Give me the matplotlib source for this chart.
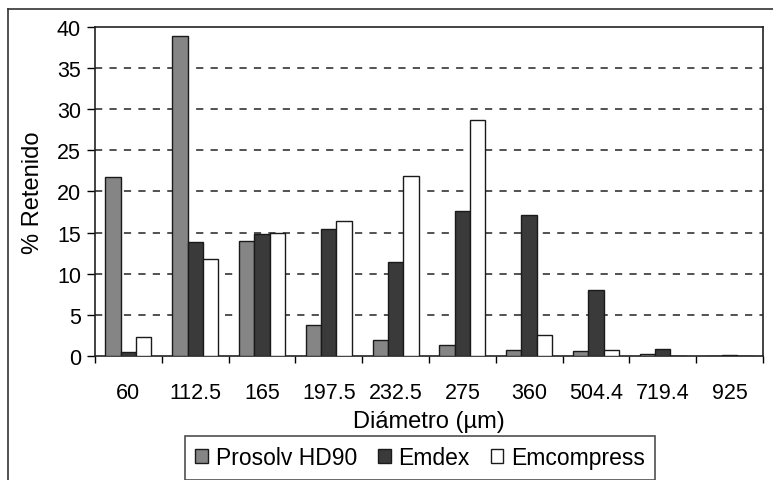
import matplotlib.pyplot as plt
from matplotlib.lines import Line2D
import numpy as np

plt.rcParams['font.family'] = ['Liberation Sans', 'DejaVu Sans']

diametro = ['60', '112.5', '165', '197.5', '232.5', '275', '360', '504.4', '719.4', '925']
prosolv = [21.8, 38.9, 14.0, 3.8, 2.0, 1.3, 0.7, 0.6, 0.2, 0.0]
emdex = [0.5, 13.8, 14.8, 15.5, 11.4, 17.6, 17.1, 8.0, 0.8, 0.15]
emcompress = [2.3, 11.8, 14.9, 16.4, 21.9, 28.7, 2.6, 0.7, 0.0, 0.0]

fig = plt.figure(figsize=(7.73, 4.81), dpi=100)
ax = fig.add_axes([0.1229, 0.2578, 0.864, 0.684])

x = np.arange(len(diametro))
w = 0.23
ax.bar(x - w, prosolv, w, color='#858585', edgecolor='#1a1a1a', linewidth=1, label='Prosolv HD90', zorder=3)
ax.bar(x, emdex, w, color='#3a3a3a', edgecolor='#1a1a1a', linewidth=1, label='Emdex', zorder=3)
ax.bar(x + w, emcompress, w, color='white', edgecolor='#1a1a1a', linewidth=1, label='Emcompress', zorder=3)

ax.set_xlim(-0.5, len(diametro) - 0.5)
ax.set_ylim(0, 40)
ax.set_yticks(range(0, 41, 5))
for yv in range(5, 40, 5):
    ax.axhline(yv, color='#444444', linestyle=(0, (4, 4)), linewidth=1.3, zorder=1)

ax.set_xticks(x)
ax.set_xticklabels(diametro)
ax.set_xticks(np.arange(-0.5, len(diametro), 1), minor=True)
ax.tick_params(axis='x', which='major', length=0, pad=19, labelsize=15.5)
ax.tick_params(axis='x', which='minor', length=5, width=1, direction='out')
ax.tick_params(axis='y', length=6, width=1, labelsize=15.5, pad=4)

for s in ax.spines.values():
    s.set_linewidth(1.2)
    s.set_color('#222222')

ax.set_ylabel('% Retenido', fontsize=17, labelpad=9)
ax.set_xlabel('Diámetro (µm)', fontsize=17, labelpad=5)

leg = ax.legend(loc='upper center', bbox_to_anchor=(0.487, -0.243), borderaxespad=0, ncol=3,
                frameon=True, fancybox=False, edgecolor='#222222', fontsize=16.5,
                handlelength=0.55, handleheight=0.55, handletextpad=0.35, columnspacing=0.9,
                borderpad=0.45)
leg.get_frame().set_linewidth(1.2)

# outer chart frame (left and top edges)
fig.add_artist(Line2D([8 / 773, 8 / 773], [0, 1 - 10 / 481], transform=fig.transFigure,
                      color='#333333', linewidth=1.2))
fig.add_artist(Line2D([8 / 773, 1], [1 - 10 / 481, 1 - 10 / 481], transform=fig.transFigure,
                      color='#333333', linewidth=1.2))

fig.savefig('out.png', dpi=100)
